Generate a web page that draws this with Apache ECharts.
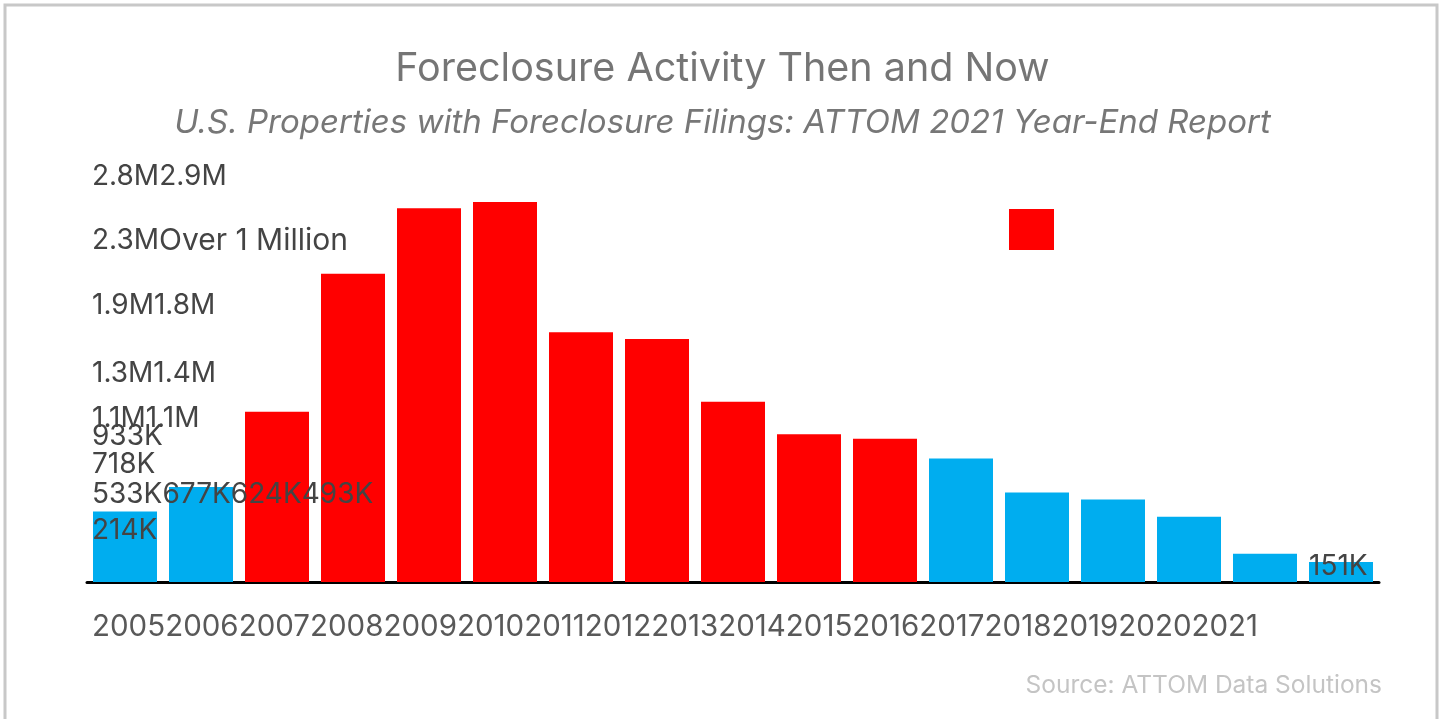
<!DOCTYPE html>
<html>
<head>
<meta charset="utf-8">
<title>Foreclosure Activity Then and Now</title>
<script src="https://cdn.jsdelivr.net/npm/echarts@6/dist/echarts.min.js"></script>
<style>
html, body { margin: 0; padding: 0; background: #fff; }
#chart { width: 1445px; height: 719px; }
</style>
</head>
<body>
<div id="chart"></div>
<script>
var years = ['2005', '2006', '2007', '2008', '2009', '2010', '2011', '2012', '2013',
    '2014', '2015', '2016', '2017', '2018', '2019', '2020', '2021'];
var filings = [532833, 717522, 1285873, 2330483, 2824674, 2871891, 1887777, 1836634, 1361795,
    1117426, 1083572, 933045, 676535, 624300, 493066, 214323, 151153];
var threshold = 1000000;
var legendName = 'Over 1 Million';

var FONT = 'Inter';
var LABEL_SIZE = 28;
var RED = '#ff0000', BLUE = '#00adef';

// 数值格式: 1.3M / 933K
function fmt(v) {
    if (v >= 1e6) return (v / 1e6).toFixed(1) + 'M';
    return Math.round(v / 1000) + 'K';
}

var ctx = document.createElement('canvas').getContext('2d');
function textWidth(t, size) {
    ctx.font = size + 'px ' + FONT;
    return ctx.measureText(t).width;
}

// 标签挤在左侧，按行排列（照参考图）
var rows = [[4, 5], [3], [6, 7], [2, 8], [9, 10], [11], [1], [0, 12, 13, 14], [15]];
var rowY = [177, 241, 306, 374, 419, 437, 465, 495, 531];
var labelLeft = 92;

function labelPos(i) {
    for (var r = 0; r < rows.length; r++) {
        var k = rows[r].indexOf(i);
        if (k < 0) continue;
        var x = labelLeft;
        for (var j = 0; j < k; j++) x += textWidth(fmt(filings[rows[r][j]]), LABEL_SIZE);
        return { x: x, y: rowY[r] };
    }
    return null;
}

var myChart = echarts.init(document.getElementById('chart'));
myChart.setOption({
    animation: false,
    backgroundColor: '#fff',
    textStyle: { fontFamily: FONT },
    title: {
        text: 'Foreclosure Activity Then and Now',
        subtext: 'U.S. Properties with Foreclosure Filings: ATTOM 2021 Year-End Report',
        left: 'center',
        top: 43,
        itemGap: 14,
        textStyle: { fontSize: 39.5, fontWeight: 'normal', color: '#757575', lineHeight: 43 },
        subtextStyle: { fontSize: 33, fontStyle: 'italic', color: '#777', lineHeight: 37 }
    },
    legend: {
        left: 1004,
        top: 204,
        itemWidth: 45,
        itemHeight: 41,
        icon: 'rect',
        data: [{ name: legendName, itemStyle: { color: RED } }],
        textStyle: { color: 'transparent' },
        selectedMode: false
    },
    grid: { left: 87, width: 1292, top: 202, bottom: 137, outerBoundsMode: 'none' },
    xAxis: {
        type: 'category',
        data: years,
        axisLine: { lineStyle: { color: '#000', width: 3 } },
        axisTick: { show: false },
        axisLabel: { show: false }
    },
    yAxis: {
        type: 'value',
        min: 0,
        max: 'dataMax',
        show: false
    },
    series: [{
        name: legendName,
        type: 'bar',
        barWidth: 64,
        data: filings,
        itemStyle: {
            color: function (p) { return p.value > threshold ? RED : BLUE; }
        },
        label: {
            show: true,
            position: 'top',
            fontSize: LABEL_SIZE,
            color: '#444',
            formatter: function (p) { return fmt(p.value); }
        },
        labelLayout: function (p) {
            var pos = labelPos(p.dataIndex);
            if (pos) return { x: pos.x, y: pos.y, align: 'left', verticalAlign: 'middle' };
            return { x: p.rect.x, y: p.rect.y + 5, align: 'left', verticalAlign: 'middle' };
        }
    }],
    graphic: [
        {
            type: 'rect',
            shape: { x: 5, y: 5, width: 1432, height: 740 },
            style: { fill: null, stroke: '#c8c8c8', lineWidth: 3 },
            silent: true
        },
        {
            type: 'text',
            x: labelLeft + textWidth(fmt(filings[3]), LABEL_SIZE),
            y: rowY[1],
            style: { text: legendName, fontFamily: FONT, fontSize: 30, fill: '#444', verticalAlign: 'middle' }
        },
        {
            type: 'text',
            x: 92,
            y: 627,
            style: { text: years.join(''), fontFamily: FONT, fontSize: 29.5, fill: '#595959', verticalAlign: 'middle' }
        },
        {
            type: 'text',
            x: 1382,
            y: 686,
            style: { text: 'Source: ATTOM Data Solutions', fontFamily: FONT, fontSize: 24.5, fill: '#c4c4c4', align: 'right', verticalAlign: 'middle' }
        }
    ]
});
</script>
</body>
</html>
